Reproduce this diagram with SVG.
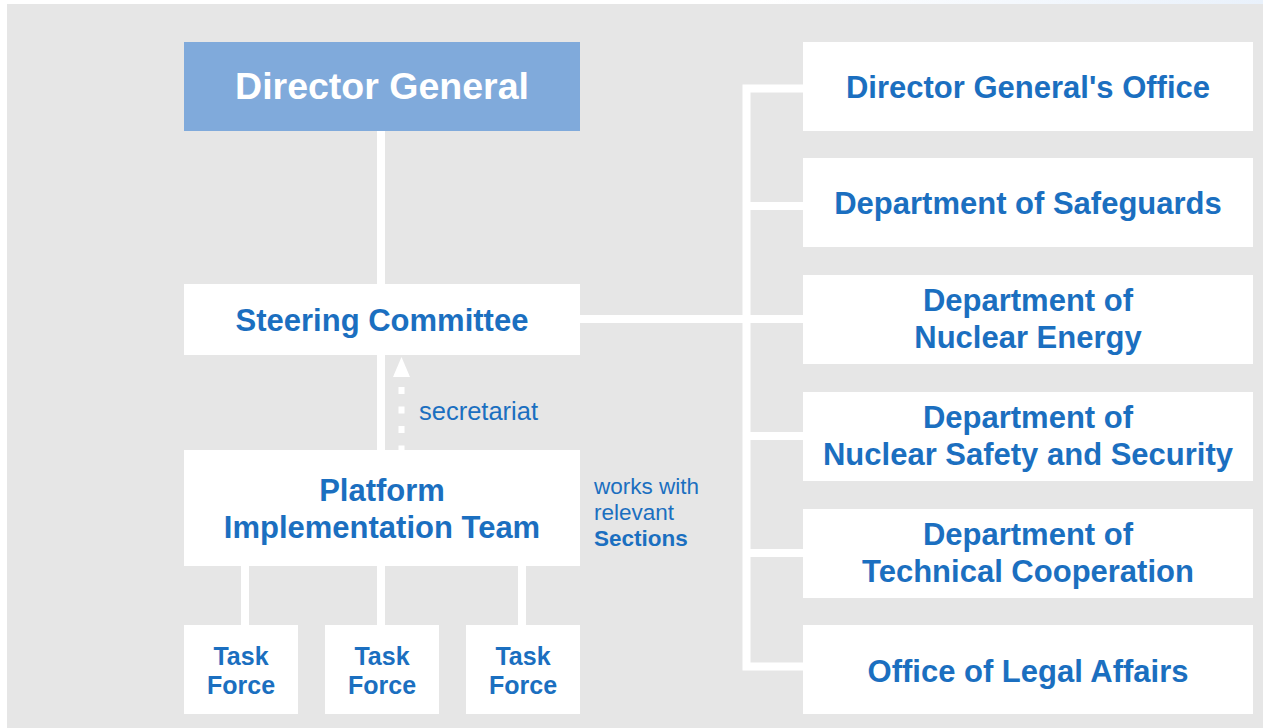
<svg xmlns="http://www.w3.org/2000/svg" width="1263" height="728" viewBox="0 0 1263 728">
  <style>
    .box { fill: #ffffff; }
    .t { font-family: "Liberation Sans", Arial, sans-serif; font-weight: bold; fill: #1b6fc0; text-anchor: middle; }
    .t30 { font-size: 31px; }
    .t24 { font-size: 25px; }
    .note { font-family: "Liberation Sans", Arial, sans-serif; fill: #1b6fc0; font-size: 22.5px; }
    .conn { stroke: #ffffff; stroke-width: 8; fill: none; }
  </style>
  <defs>
    <linearGradient id="topStrip" x1="0" y1="0" x2="1" y2="0">
      <stop offset="0.6" stop-color="#ffffff"/>
      <stop offset="1" stop-color="#e9f1fb"/>
    </linearGradient>
  </defs>
  <rect x="0" y="0" width="1263" height="728" fill="#ffffff"/>
  <rect x="0" y="0" width="1263" height="4" fill="url(#topStrip)"/>
  <rect x="7" y="4" width="1256" height="724" fill="#e6e6e6"/>

  <g id="connectors">
    <line class="conn" x1="381" y1="131" x2="381" y2="284"/>
    <line class="conn" x1="381" y1="355" x2="381" y2="450"/>
    <line x1="401.5" y1="387" x2="401.5" y2="450" stroke="#ffffff" stroke-width="6" stroke-dasharray="7 12.5"/>
    <polygon points="401.5,357 410,377 393,377" fill="#ffffff"/>
    <line class="conn" x1="245" y1="566" x2="245" y2="625"/>
    <line class="conn" x1="381" y1="566" x2="381" y2="625"/>
    <line class="conn" x1="522" y1="566" x2="522" y2="625"/>
    <line class="conn" x1="580" y1="319" x2="803" y2="319"/>
    <polyline class="conn" points="803,88.5 746.5,88.5 746.5,666.5 803,666.5"/>
    <line class="conn" x1="746.5" y1="206" x2="803" y2="206"/>
    <line class="conn" x1="746.5" y1="436" x2="803" y2="436"/>
    <line class="conn" x1="746.5" y1="553" x2="803" y2="553"/>
  </g>

  <g id="director-general">
    <rect x="184" y="42" width="396" height="89" fill="#80aadb"/>
    <text x="382" y="99" font-family="'Liberation Sans', Arial, sans-serif" font-weight="bold" font-size="37.5" fill="#ffffff" text-anchor="middle">Director General</text>
  </g>

  <g id="steering-committee">
    <rect class="box" x="184" y="284" width="396" height="71"/>
    <text class="t t30" x="382" y="331">Steering Committee</text>
  </g>

  <g id="secretariat-label">
    <text class="note" x="419" y="420" style="font-size:25.5px">secretariat</text>
  </g>

  <g id="platform-implementation-team">
    <rect class="box" x="184" y="450" width="396" height="116"/>
    <text class="t t30" x="382" y="501">Platform</text>
    <text class="t t30" x="382" y="538">Implementation Team</text>
  </g>

  <g id="works-with-label">
    <text class="note" x="594" y="494">works with</text>
    <text class="note" x="594" y="520">relevant</text>
    <text class="note" x="594" y="546" font-weight="bold">Sections</text>
  </g>

  <g id="task-force-1">
    <rect class="box" x="184" y="625" width="114" height="89"/>
    <text class="t t24" x="241" y="665">Task</text>
    <text class="t t24" x="241" y="694">Force</text>
  </g>
  <g id="task-force-2">
    <rect class="box" x="325" y="625" width="114" height="89"/>
    <text class="t t24" x="382" y="665">Task</text>
    <text class="t t24" x="382" y="694">Force</text>
  </g>
  <g id="task-force-3">
    <rect class="box" x="466" y="625" width="114" height="89"/>
    <text class="t t24" x="523" y="665">Task</text>
    <text class="t t24" x="523" y="694">Force</text>
  </g>

  <g id="dg-office">
    <rect class="box" x="803" y="42" width="450" height="89"/>
    <text class="t t30" x="1028" y="98">Director General's Office</text>
  </g>
  <g id="dept-safeguards">
    <rect class="box" x="803" y="158" width="450" height="89"/>
    <text class="t t30" x="1028" y="214">Department of Safeguards</text>
  </g>
  <g id="dept-nuclear-energy">
    <rect class="box" x="803" y="275" width="450" height="89"/>
    <text class="t t30" x="1028" y="311">Department of</text>
    <text class="t t30" x="1028" y="348">Nuclear Energy</text>
  </g>
  <g id="dept-nuclear-safety">
    <rect class="box" x="803" y="392" width="450" height="89"/>
    <text class="t t30" x="1028" y="428">Department of</text>
    <text class="t t30" x="1028" y="465">Nuclear Safety and Security</text>
  </g>
  <g id="dept-technical-cooperation">
    <rect class="box" x="803" y="509" width="450" height="89"/>
    <text class="t t30" x="1028" y="545">Department of</text>
    <text class="t t30" x="1028" y="582">Technical Cooperation</text>
  </g>
  <g id="office-legal-affairs">
    <rect class="box" x="803" y="625" width="450" height="89"/>
    <text class="t t30" x="1028" y="682">Office of Legal Affairs</text>
  </g>
</svg>
